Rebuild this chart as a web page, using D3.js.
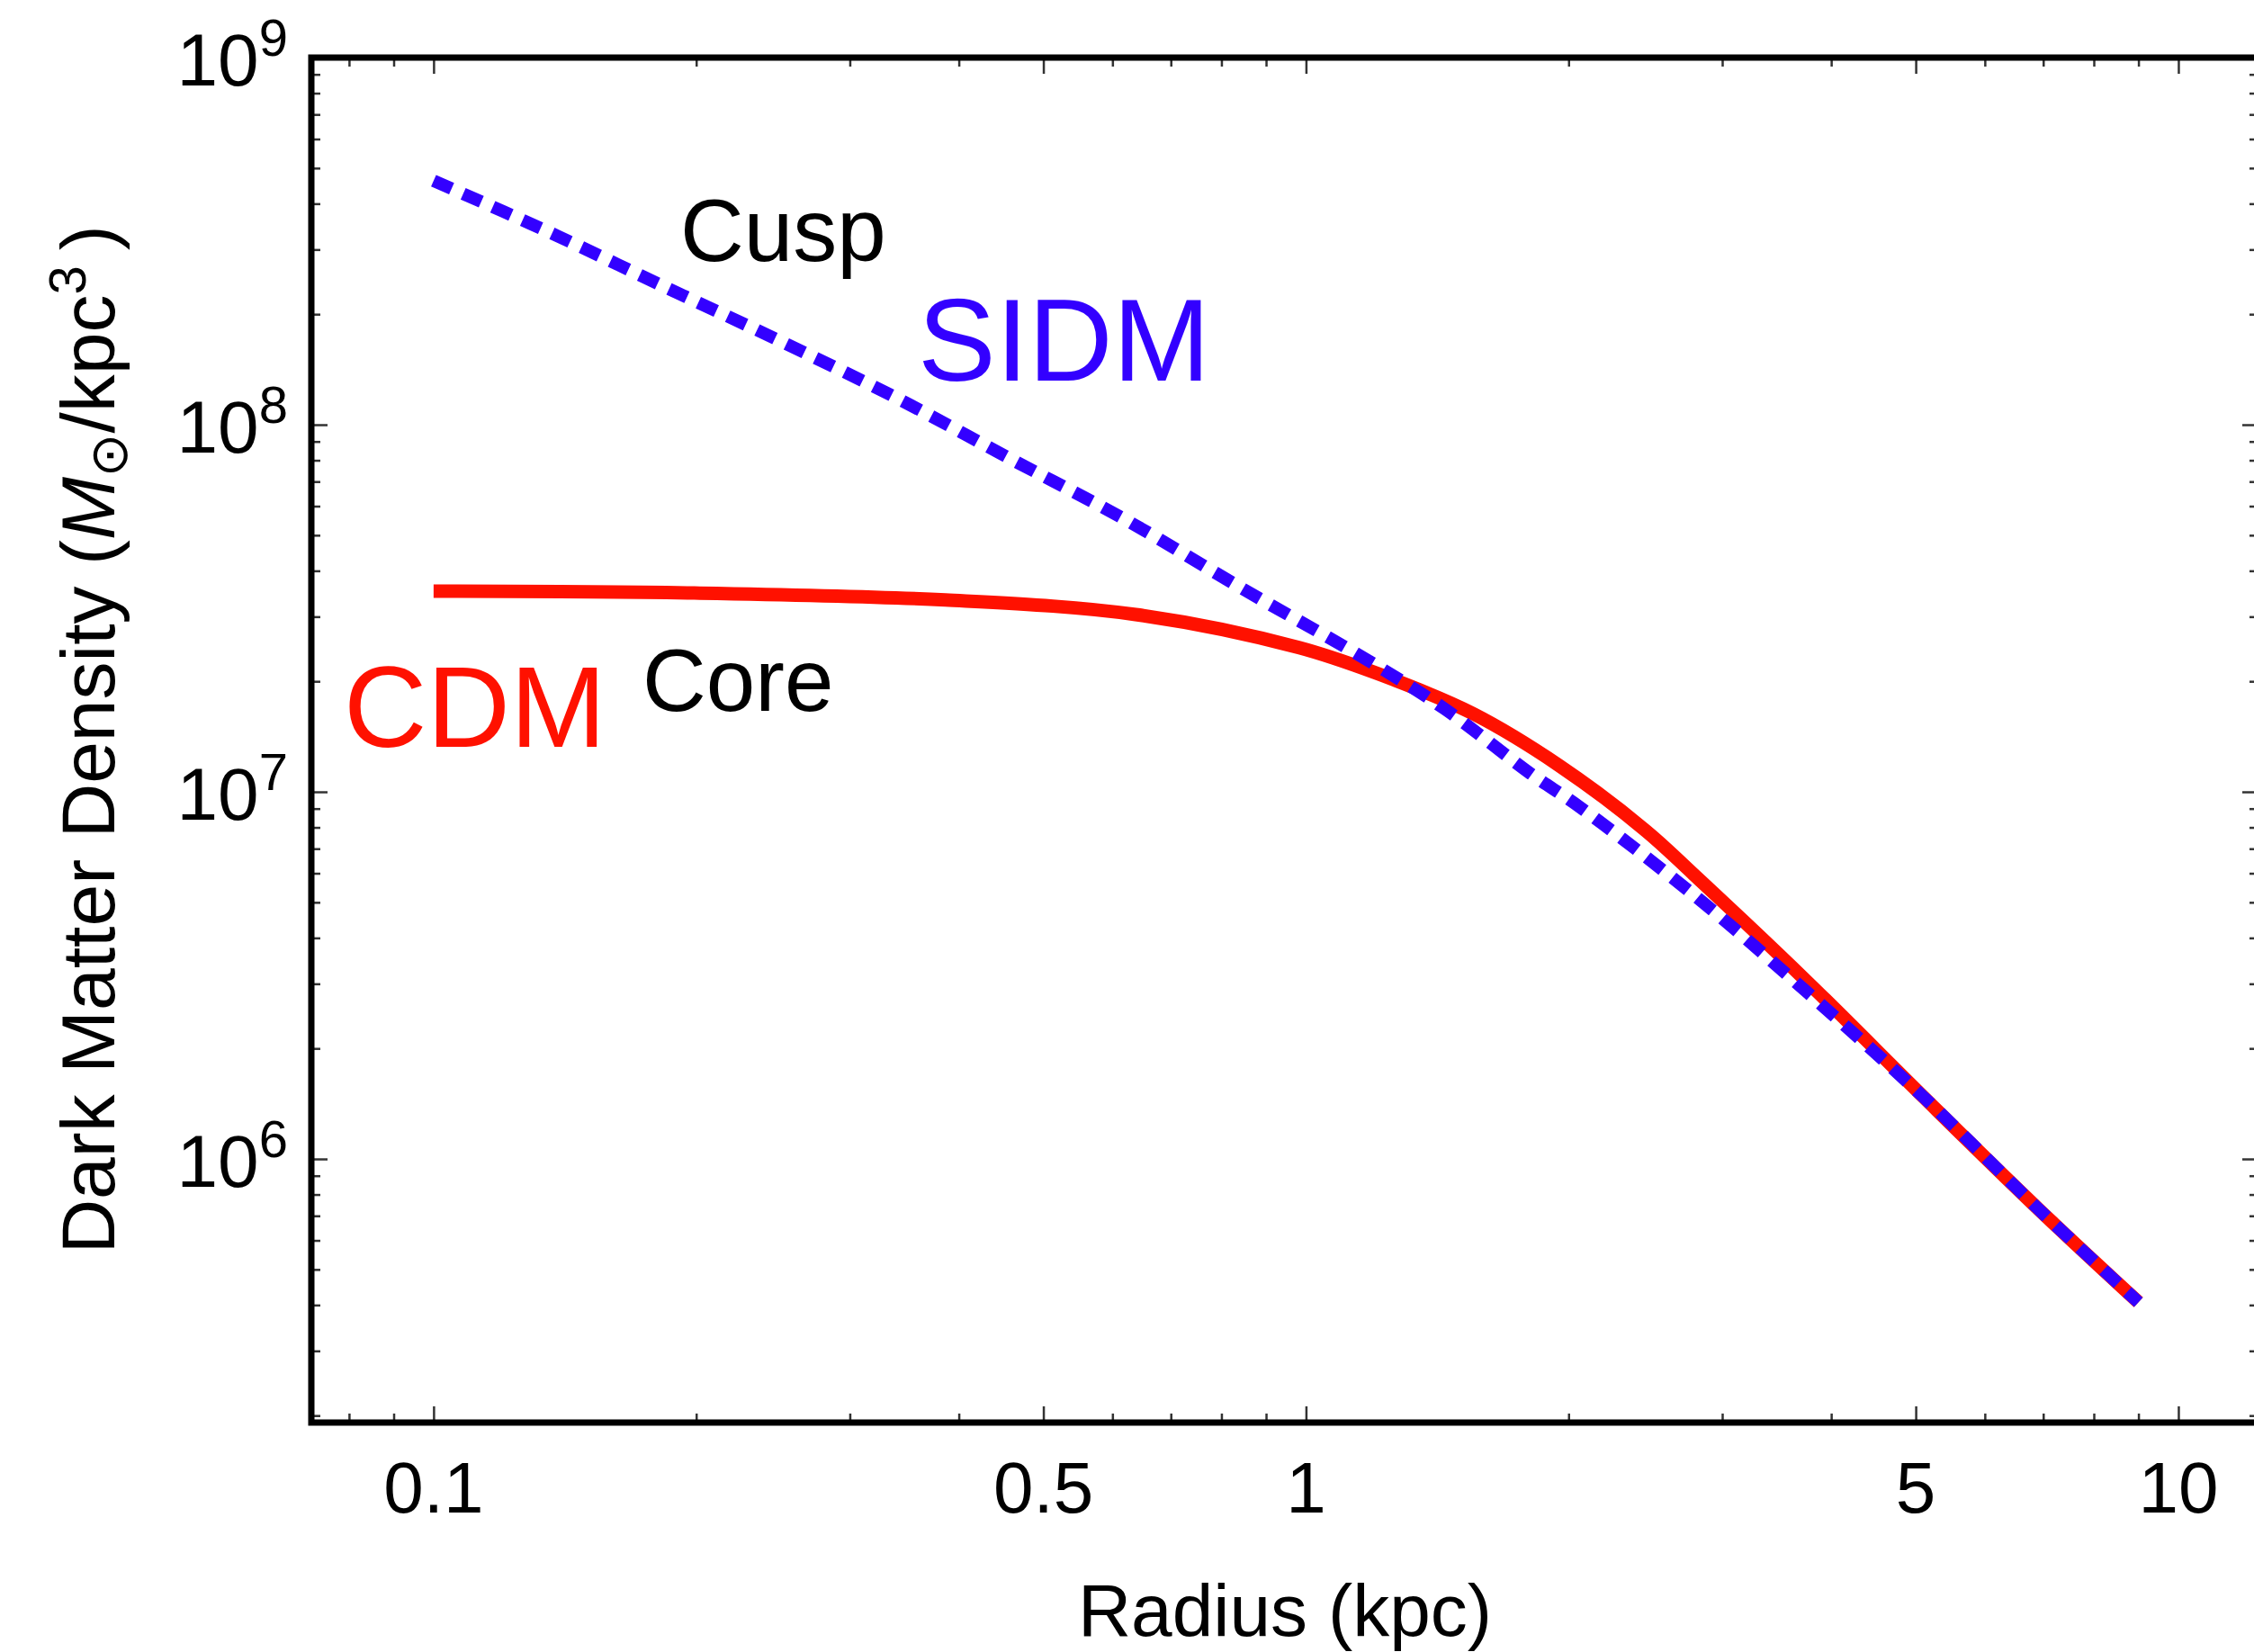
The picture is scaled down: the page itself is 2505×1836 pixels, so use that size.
<!DOCTYPE html>
<html><head><meta charset="utf-8">
<script src="https://cdn.jsdelivr.net/npm/d3@7/dist/d3.min.js"></script>
<style>body{margin:0;background:#fff}svg{display:block}</style>
</head><body>
<svg id="chart" width="2505" height="1836"></svg>
<script>
// ---- data ----
const radiusSIDM  = [0.1, 0.137, 0.185, 0.251, 0.34, 0.46, 0.622, 0.85, 1.185, 1.443, 1.81, 2.056, 2.78, 3.77, 5.11, 6.9, 9.0];
const densitySIDM = [4.62e8, 3.31e8, 2.36e8, 1.68e8, 1.18e8, 8.04e7, 5.50e7, 3.55e7, 2.26e7, 1.68e7, 1.12e7, 9.12e6, 5.25e6, 2.82e6, 1.47e6, 7.33e5, 4.07e5];
const radiusCDM   = [0.1, 0.199, 0.386, 0.638, 0.982, 1.24, 1.556, 1.95, 2.45, 2.78, 3.77, 5.11, 6.9, 9.0];
const densityCDM  = [3.52e7, 3.48e7, 3.33e7, 3.04e7, 2.47e7, 2.05e7, 1.63e7, 1.18e7, 7.85e6, 5.97e6, 3.01e6, 1.47e6, 7.33e5, 4.07e5];
const xTickLabels = ["0.1", "0.5", "1", "5", "10"];
const xMajorTicks = [0.1, 0.5, 1, 5, 10];
const xMinorTicks = [0.08, 0.09, 0.2, 0.3, 0.4, 0.6, 0.7, 0.8, 0.9, 2, 3, 4, 6, 7, 8, 9];
const yMajorTicks = [1e6, 1e7, 1e8, 1e9];
const yExponents  = ["6", "7", "8", "9"];
const yMinorTicks = [2e5,3e5,4e5,5e5,6e5,7e5,8e5,9e5,2e6,3e6,4e6,5e6,6e6,7e6,8e6,9e6,2e7,3e7,4e7,5e7,6e7,7e7,8e7,9e7,2e8,3e8,4e8,5e8,6e8,7e8,8e8,9e8];
const xDomain = [0.07242, 12.355];
const yDomain = [1.914e5, 1e9];

// ---- layout ----
const L = 346, R = 2510, T = 64, B = 1581;
const FONT = "'Liberation Sans', Arial, Helvetica, sans-serif";
const BLUE = "#3300ff", RED = "#ff1100";

const svg = d3.select("#chart");
svg.append("rect").attr("width", 2505).attr("height", 1836).attr("fill", "#fff");

const x = d3.scaleLog().domain(xDomain).range([L, R]);
const y = d3.scaleLog().domain(yDomain).range([B, T]);

const line = d3.line().x(d => x(d[0])).y(d => y(d[1])).curve(d3.curveCatmullRom.alpha(0.5));

// CDM (red, solid) below SIDM (blue, dashed)
svg.append("path")
  .datum(radiusCDM.map((r, i) => [r, densityCDM[i]]))
  .attr("d", line).attr("fill", "none")
  .attr("stroke", RED).attr("stroke-width", 15).attr("stroke-linecap", "butt").attr("stroke-linejoin", "round");

svg.append("path")
  .datum(radiusSIDM.map((r, i) => [r, densitySIDM[i]]))
  .attr("d", line).attr("fill", "none")
  .attr("stroke", BLUE).attr("stroke-width", 14).attr("stroke-dasharray", "22,14").attr("stroke-linecap", "butt");

// ---- ticks (inward, on all four sides) ----
function ticks(axisFn, scale, vals, size, transform) {
  const g = svg.append("g").attr("transform", transform)
    .call(axisFn(scale).tickValues(vals).tickSize(-size).tickFormat(""));
  g.select(".domain").remove();
  g.selectAll(".tick line").attr("stroke", "#333").attr("stroke-width", 2.5);
}
ticks(d3.axisBottom, x, xMajorTicks, 18, `translate(0,${B})`);
ticks(d3.axisBottom, x, xMinorTicks, 10, `translate(0,${B})`);
ticks(d3.axisTop, x, xMajorTicks, 18, `translate(0,${T})`);
ticks(d3.axisTop, x, xMinorTicks, 10, `translate(0,${T})`);
ticks(d3.axisLeft, y, yMajorTicks, 18, `translate(${L},0)`);
ticks(d3.axisLeft, y, yMinorTicks, 10, `translate(${L},0)`);
ticks(d3.axisRight, y, yMajorTicks, 18, `translate(${R},0)`);
ticks(d3.axisRight, y, yMinorTicks, 10, `translate(${R},0)`);

// frame
svg.append("rect").attr("x", L).attr("y", T).attr("width", R - L).attr("height", B - T)
  .attr("fill", "none").attr("stroke", "#000").attr("stroke-width", 7);

// x tick labels
svg.append("g").selectAll("text").data(xMajorTicks).join("text")
  .attr("x", d => x(d)).attr("y", 1681)
  .attr("text-anchor", "middle").attr("font-family", FONT).attr("font-size", 80).attr("fill", "#000")
  .text((d, i) => xTickLabels[i]);

// y tick labels 10^n
const yl = svg.append("g").selectAll("text").data(yMajorTicks).join("text")
  .attr("x", 320).attr("y", d => y(d) + 31)
  .attr("text-anchor", "end").attr("font-family", FONT).attr("font-size", 82).attr("fill", "#000");
yl.append("tspan").text("10");
yl.append("tspan").attr("dy", -33).attr("font-size", 58).text((d, i) => yExponents[i]);

// axis titles
svg.append("text").attr("x", (L + R) / 2).attr("y", 1818)
  .attr("text-anchor", "middle").attr("font-family", FONT).attr("font-size", 82).attr("fill", "#000")
  .text("Radius (kpc)");

const yt = svg.append("text").attr("transform", "translate(127,822) rotate(-90)")
  .attr("text-anchor", "middle").attr("font-family", FONT).attr("font-size", 84).attr("fill", "#000");
yt.append("tspan").text("Dark Matter Density (");
yt.append("tspan").attr("font-style", "italic").text("M");
yt.append("tspan").attr("font-size", 58).attr("dy", 14).attr("font-family", "'DejaVu Sans', sans-serif").text("\u2299");
yt.append("tspan").attr("dy", -14).text("/kpc");
yt.append("tspan").attr("font-size", 58).attr("dy", -32).text("3");
yt.append("tspan").attr("dy", 32).text("\u2009)");

// annotations
function label(txt, px, py, size, color) {
  svg.append("text").attr("x", px).attr("y", py).attr("font-family", FONT)
    .attr("font-size", size).attr("fill", color).text(txt);
}
label("Cusp", 756, 290, 98, "#000");
label("SIDM", 1020, 423, 130, BLUE);
label("CDM", 382, 830, 128, RED);
label("Core", 714, 790, 98, "#000");
</script>
</body></html>
